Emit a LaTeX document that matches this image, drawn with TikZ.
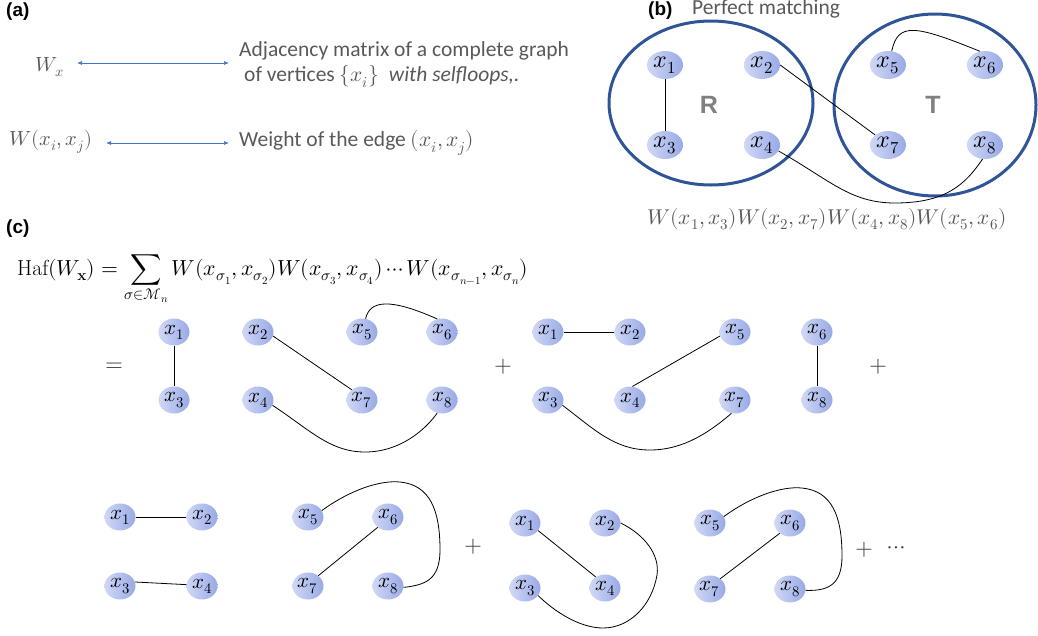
\documentclass[tikz,border=0pt]{standalone}
\usepackage{fontspec}
\usepackage{unicode-math}
\setmathfont{Latin Modern Math}
\newfontfamily\carl{Carlito}
\newfontfamily\arl{Liberation Sans}
\usetikzlibrary{shapes.geometric,arrows.meta}
\definecolor{txtgray}{HTML}{595959}
\definecolor{ringblue}{HTML}{2F5597}
\definecolor{arrblue}{HTML}{4472C4}
\definecolor{nodeL}{RGB}{208,216,246}
\definecolor{nodeR}{RGB}{152,170,230}
\definecolor{letgray}{HTML}{808080}
\begin{document}
\begin{tikzpicture}[x=1pt,y=-1pt,
 vbig/.style={ellipse, minimum width=36pt, minimum height=28pt, inner sep=0pt, left color=nodeL, right color=nodeR, font=\fontsize{24}{24}\selectfont},
 vsm/.style={ellipse, minimum width=31pt, minimum height=27pt, inner sep=0pt, left color=nodeL, right color=nodeR, font=\fontsize{21}{21}\selectfont},
 edge/.style={draw=black, line width=0.8pt},
 ring/.style={draw=ringblue, line width=3pt},
 dbl/.style={draw=arrblue, line width=0.7pt, {Latex[length=5pt,width=4pt]}-{Latex[length=5pt,width=4pt]}},
 lab/.style={font=\arl\bfseries\fontsize{19}{19}\selectfont, anchor=west, inner sep=0pt},
 gtext/.style={text=txtgray, font=\carl\fontsize{21.5}{25}\selectfont, anchor=west, inner sep=0pt, align=left},
 gmath/.style={text=txtgray, font=\fontsize{20.5}{20.5}\selectfont, inner sep=0pt},
 op/.style={font=\fontsize{23}{23}\selectfont, text=black!75, inner sep=0pt}
]
\useasboundingbox (0,0) rectangle (1038,635);

% ---------- (a)
\node[lab] (la) at (6,12) {(a)};
\node[gmath] (wx) at (50,67) {$W_x$};
\node[gtext] (adj) at (239,64.5) {Adjacency matrix of a complete graph\\\hspace{5pt}of vertices $\{x_i\}$\ \ \textit{with selfloops,.}};
\coordinate (a1s) at (77,63);
\coordinate (a1e) at (229,63);
\draw[dbl] (a1s) -- (a1e);
\node[gmath] (wij) at (51,142) {$W(x_i,x_j)$};
\node[gtext] (wt) at (239,143) {Weight of the edge $(x_i,x_j)$};
\coordinate (a2s) at (106,143);
\coordinate (a2e) at (229,143);
\draw[dbl] (a2s) -- (a2e);

% ---------- (b)
\node[lab] (lb) at (648,11) {(b)};
\node[gtext] (pm) at (692,9) {Perfect matching};
\draw[ring] (711,103) ellipse [x radius=102pt, y radius=82pt];
\draw[ring] (935,105) ellipse [x radius=101pt, y radius=91pt];
\node[font=\arl\bfseries\fontsize{25}{25}\selectfont, text=letgray] (R) at (709,105) {R};
\node[font=\arl\bfseries\fontsize{25}{25}\selectfont, text=letgray] (T) at (933,105) {T};
\node[vbig] (b1) at (665,65) {$x_1$};
\node[vbig] (b2) at (762,65) {$x_2$};
\node[vbig] (b3) at (665,145) {$x_3$};
\node[vbig] (b4) at (762,145) {$x_4$};
\node[vbig] (b5) at (888,65) {$x_5$};
\node[vbig] (b6) at (985,65) {$x_6$};
\node[vbig] (b7) at (888,145) {$x_7$};
\node[vbig] (b8) at (985,145) {$x_8$};
\draw[edge] (b1.south) -- (b3.north);
\draw[edge] (b2.east) -- (b7.north west);
\draw[edge] (b5.75) .. controls (898,22) and (915,25) .. (b6.110);
\draw[edge] (b4.-20) .. controls (830,180) and (850,203) .. (895,203) .. controls (945,203) and (965,185) .. (b8.-100);
\node[gmath, font=\fontsize{21.4}{21.4}\selectfont] (wprod) at (827,219) {$W(x_1,x_3)W(x_2,x_7)W(x_4,x_8)W(x_5,x_6)$};

% ---------- (c)
\node[lab] (lc) at (6,229) {(c)};
\node[anchor=base west, inner sep=0pt, font=\fontsize{21.8}{21.8}\selectfont] (haf) at (17,275)
 {$\displaystyle \mathrm{Haf}(W_{\mathbf{x}}) = \sum_{\sigma\in\mathcal{M}_n} W(x_{\sigma_1},x_{\sigma_2})W(x_{\sigma_3},x_{\sigma_4})\cdots W(x_{\sigma_{n-1}},x_{\sigma_n})$};

\node[op] (eq) at (114,367) {$=$};
% group 1
\node[vsm] (a1) at (174,332) {$x_1$};
\node[vsm] (a2) at (258,332) {$x_2$};
\node[vsm] (a3) at (174,400) {$x_3$};
\node[vsm] (a4) at (258,400) {$x_4$};
\node[vsm] (a5) at (362,332) {$x_5$};
\node[vsm] (a6) at (442,332) {$x_6$};
\node[vsm] (a7) at (362,400) {$x_7$};
\node[vsm] (a8) at (442,400) {$x_8$};
\draw[edge] (a1.south) -- (a3.north);
\draw[edge] (a2.-15) -- (a7.135);
\draw[edge] (a5.75) .. controls (370,300) and (390,298) .. (a6.110);
\draw[edge] (a4.-20) .. controls (310,430) and (330,452) .. (365,452) .. controls (400,452) and (425,430) .. (a8.-110);
\node[op] (p1) at (503,367) {$+$};
% group 2
\node[vsm] (c1) at (548,332) {$x_1$};
\node[vsm] (c2) at (630,332) {$x_2$};
\node[vsm] (c3) at (548,400) {$x_3$};
\node[vsm] (c4) at (630,400) {$x_4$};
\node[vsm] (c5) at (735,332) {$x_5$};
\node[vsm] (c6) at (817,332) {$x_6$};
\node[vsm] (c7) at (735,400) {$x_7$};
\node[vsm] (c8) at (817,400) {$x_8$};
\draw[edge] (c1.east) -- (c2.west);
\draw[edge] (c4.80) -- (c5.-165);
\draw[edge] (c6.south) -- (c8.north);
\draw[edge] (c3.-20) .. controls (595,430) and (615,450) .. (650,450) .. controls (685,450) and (712,430) .. (c7.-105);
\node[op] (p2) at (878,367) {$+$};
% group 3
\node[vsm] (d1) at (120,517) {$x_1$};
\node[vsm] (d2) at (202,517) {$x_2$};
\node[vsm] (d3) at (120,586) {$x_3$};
\node[vsm] (d4) at (202,586) {$x_4$};
\node[vsm] (d5) at (308,517) {$x_5$};
\node[vsm] (d6) at (388,517) {$x_6$};
\node[vsm] (d7) at (308,586) {$x_7$};
\node[vsm] (d8) at (388,586) {$x_8$};
\draw[edge] (d1.east) -- (d2.west);
\draw[edge] (d3.15) -- (d4.175);
\draw[edge] (d6.-135) -- (d7.45);
\draw[edge] (d5.25) .. controls (350,490) and (380,480) .. (400,482) .. controls (430,485) and (440,510) .. (440,550) .. controls (440,580) and (425,585) .. (d8.-5);
\node[op] (p3) at (473,547) {$+$};
% group 4
\node[vsm] (e1) at (525,523) {$x_1$};
\node[vsm] (e2) at (605,523) {$x_2$};
\node[vsm] (e3) at (525,588) {$x_3$};
\node[vsm] (e4) at (605,588) {$x_4$};
\node[vsm] (e5) at (710,523) {$x_5$};
\node[vsm] (e6) at (790,523) {$x_6$};
\node[vsm] (e7) at (710,589) {$x_7$};
\node[vsm] (e8) at (790,589) {$x_8$};
\draw[edge] (e1.-30) -- (e4.130);
\draw[edge] (e2.east) .. controls (645,535) and (660,555) .. (657,575) .. controls (652,605) and (630,628) .. (603,628) .. controls (580,628) and (555,612) .. (e3.-30);
\draw[edge] (e6.-135) -- (e7.45);
\draw[edge] (e5.25) .. controls (752,496) and (782,486) .. (802,488) .. controls (832,491) and (842,516) .. (842,556) .. controls (842,586) and (827,591) .. (e8.-5);
\node[op] (p4) at (864,550) {$+$};
\node[op] (dots) at (896,550) {$\cdots$};
\end{tikzpicture}
\end{document}
